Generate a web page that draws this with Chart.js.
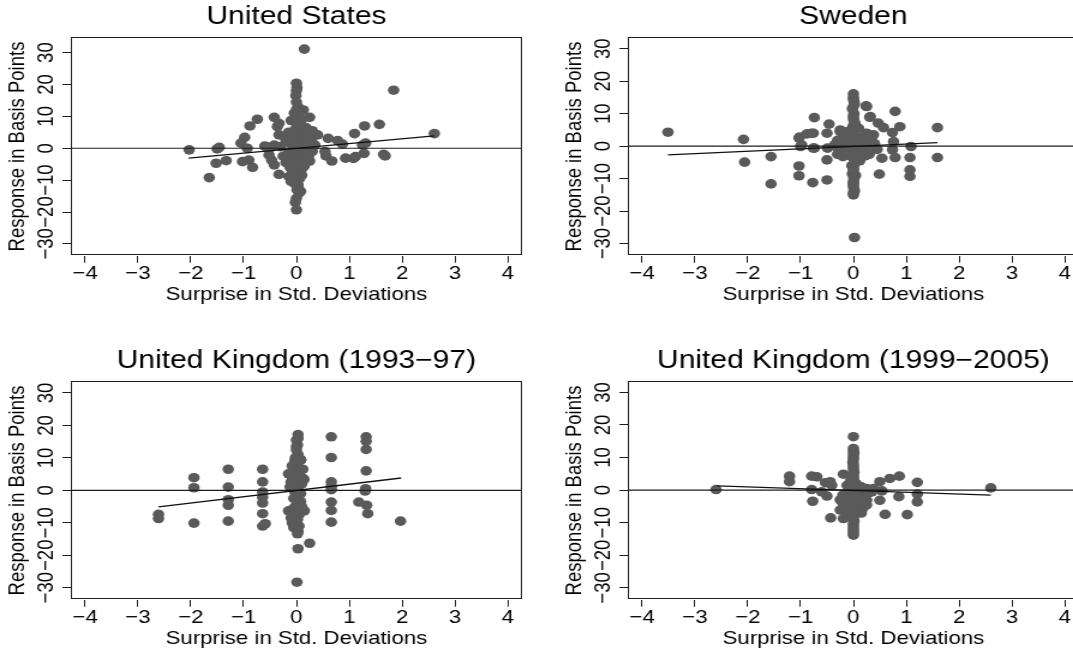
<!DOCTYPE html>
<html>
<head>
<meta charset="utf-8">
<script src="https://cdn.jsdelivr.net/npm/chart.js@4.4.0/dist/chart.umd.min.js"></script>
<style>
html, body { margin: 0; padding: 0; background: #fff; overflow: hidden; width: 1073px; height: 654px; position: relative; }
.panel { position: absolute; transform: scaleX(1.2); transform-origin: 0 0; }
</style>
</head>
<body>
<canvas id="c1" class="panel" width="464" height="344" style="left:0px;top:0px"></canvas>
<canvas id="c2" class="panel" width="464" height="344" style="left:557px;top:0px"></canvas>
<canvas id="c3" class="panel" width="464" height="344" style="left:0px;top:344px"></canvas>
<canvas id="c4" class="panel" width="464" height="344" style="left:557px;top:344px"></canvas>
<script>
// ---------- data ----------
const xTickValues = [-4, -3, -2, -1, 0, 1, 2, 3, 4];
const xTickLabels = ['−4', '−3', '−2', '−1', '0', '1', '2', '3', '4'];
const yTickValues = [-30, -20, -10, 0, 10, 20, 30];
const yTickLabels = ['−30', '−20', '−10', '0', '10', '20', '30'];
const panelTitles = ['United States', 'Sweden', 'United Kingdom (1993−97)', 'United Kingdom (1999−2005)'];
const xAxisTitle = 'Surprise in Std. Deviations';
const yAxisTitle = 'Response in Basis Points';
const xRange = [-4.27, 4.27];
const yRanges = [[-33.7, 34.8], [-33.7, 33.5], [-33.7, 33.6], [-33.6, 33.4]];

// [surprise, response] pairs
const usPoints = [
  [0.15,31.1],[0.00,20.4],[0.01,19.0],[0.00,18.0],[-0.01,16.5],[1.84,18.2],[2.61,4.6],[1.29,7.0],[1.57,7.5],
  [1.10,4.6],[1.31,1.6],[1.25,1.0],[1.65,-1.9],[1.68,-2.4],[1.28,-1.6],[1.12,-2.6],[1.08,-3.2],[0.93,-3.1],
  [0.78,2.4],[0.87,1.3],[0.60,3.1],[0.40,4.2],[0.54,-1.0],[0.56,-2.4],[0.67,-4.0],[0.25,9.7],[0.13,12.0],
  [0.03,13.0],[0.05,11.0],[0.00,-19.3],[0.00,-15.7],[0.01,-13.0],[0.03,-11.5],[-0.10,-10.4],[-0.14,-8.9],
  [0.08,-7.8],[0.06,-9.5],[-0.33,-8.2],[-0.42,-5.2],[-0.47,-3.7],[-0.52,-2.1],[-0.42,1.0],[-0.60,0.7],
  [-0.48,0.3],[-0.33,4.2],[-0.36,6.8],[-0.42,9.7],[-0.33,7.8],[-0.10,8.7],[-0.04,11.0],[-0.74,9.1],
  [-0.88,7.0],[-0.98,3.4],[-1.05,1.6],[-0.93,0.0],[-1.02,-4.2],[-0.90,-3.7],[-0.83,-6.0],[-1.33,-3.9],
  [-1.46,0.3],[-1.50,-0.2],[-1.52,-4.7],[-2.03,-0.5],[-1.65,-9.2],[-0.20,2.6],[-0.55,0.4],
  [0.02,10.0],[0.00,8.0],[0.05,7.0],[-0.02,6.0],[0.10,5.0],[0.04,4.0],[0.15,3.5],[-0.05,3.0],[0.08,2.0],
  [0.20,1.5],[-0.08,1.0],[0.12,0.5],[0.00,0.0],[0.05,-1.0],[0.18,-1.5],[-0.05,-2.0],[0.10,-2.5],[0.20,-3.0],
  [-0.10,-3.5],[0.02,-4.0],[0.12,-4.5],[-0.05,-5.0],[0.00,-6.0],[0.10,-6.5],[-0.08,-7.0],[0.03,-12.0],
  [0.22,4.5],[0.30,5.5],[0.25,-4.0],[-0.20,-4.5],[-0.15,-1.5],[-0.25,-2.5],[-0.30,0.5],[0.24,-2.0],
  [0.00,12.0],[0.02,9.0],[-0.03,5.0],[0.00,-8.0],[0.02,-9.0],[0.00,-10.0],[-0.04,-11.0],[0.05,-14.0],
  [0.10,-8.5],[-0.12,-6.0],[0.15,-5.5],[0.18,6.5],[0.10,9.0],[-0.15,5.0],[-0.18,2.0],[0.30,-1.0],
  [0.35,1.0],[0.28,2.5],[0.08,-13.5],[0.00,14.5],[-0.02,-17.0]
];
const swedenPoints = [
  [-3.51,4.3],[-2.08,2.1],[-2.06,-4.9],[-1.56,-3.2],[-1.56,-11.6],[-1.03,-6.1],[-1.03,-9.1],[-0.77,-11.2],
  [-0.50,-10.4],[-1.03,2.5],[-0.98,0.4],[-0.79,4.0],[-0.74,8.8],[-0.74,-0.6],[-0.50,-4.2],[-0.50,4.0],
  [-0.46,6.8],[-0.49,-0.6],[-0.25,4.5],[-0.22,-1.6],[0.00,16.1],[0.00,-15.0],[0.00,-11.4],[0.02,-28.1],
  [0.24,12.4],[0.32,9.1],[0.49,-8.6],[0.54,-3.7],[0.47,7.1],[0.57,5.7],[0.38,3.5],[0.79,10.7],[0.88,6.0],
  [0.74,4.2],[0.76,1.4],[0.74,-1.1],[0.79,-3.5],[1.09,-0.1],[1.07,-3.5],[1.07,-7.3],[1.07,-9.3],[1.59,5.7],
  [1.59,-3.5],[-1.02,2.8],[-0.88,3.8],[-0.76,4.0],[-0.76,-0.6],[-1.00,-0.1],[-0.25,5.0],[-0.25,-2.2],
  [0.25,4.0],[0.31,8.9],[0.25,12.2],
  [-0.30,-2.5],[-0.20,2.5],[-0.15,0.5],[-0.10,-1.0],[0.10,1.0],[0.15,-2.0],[0.20,0.5],[0.25,-1.5],[0.30,1.5],
  [0.35,-0.5],[0.45,-1.0],[-0.25,1.0],[0.05,3.0],[-0.05,-3.0],[0.10,5.5],[-0.10,4.5],[0.12,-4.5],
  [0.00,14.5],[0.02,13.0],[-0.02,11.5],[0.01,10.0],[0.00,8.5],[0.03,7.0],[-0.01,6.0],[0.02,-5.5],[0.00,-7.0],
  [-0.02,-8.5],[0.01,-10.0],[0.00,-12.5],[0.02,-13.8],[-0.03,-6.0],[0.04,-9.0],[0.00,-10.9],
  [0.00,15.0],[0.01,13.8],[0.00,12.2],[0.00,9.3],[0.01,7.8],[0.00,4.0],[0.00,2.0],[0.00,-1.5],[0.01,-4.0],
  [0.00,-6.8],[0.00,-7.8],[0.01,-9.5],[0.00,-11.8],[0.01,-13.2],[0.00,-14.3],
  [-0.35,0.5],[-0.30,1.8],[-0.28,-1.0],[-0.20,-3.2],[-0.12,3.0],[0.18,2.8],[0.22,-3.0],[0.30,-2.5],
  [0.40,0.8],[0.12,-0.5],[-0.15,-2.0],[0.08,2.2],[0.28,3.0],[-0.08,0.2]
];
const uk9397Points = [
  [-2.61,-7.4],[-2.61,-8.7],[-1.94,3.9],[-1.94,0.8],[-1.94,-10.1],[-1.29,6.5],[-1.29,1.0],[-1.29,-2.9],
  [-1.29,-4.6],[-1.29,-9.5],[-0.64,6.5],[-0.64,2.6],[-0.64,-0.5],[-0.64,-2.1],[-0.64,-3.9],[-0.64,-7.2],
  [-0.64,-11.0],[-0.59,-10.3],[0.03,17.2],[0.02,-13.4],[0.03,-18.0],[0.25,-16.3],[0.01,-28.3],[-0.15,-6.3],
  [0.15,-6.3],[-0.11,4.8],[0.13,3.6],[0.66,16.5],[0.66,10.1],[0.66,2.6],[0.66,1.2],[0.66,0.2],[0.66,-3.6],
  [0.66,-6.2],[0.66,-9.8],[1.32,16.5],[1.32,15.1],[1.32,12.6],[1.32,6.0],[1.31,0.5],[1.30,-0.2],[1.18,-3.6],
  [1.33,-4.6],[1.35,-7.2],[1.97,-9.5],
  [0.00,15.5],[0.02,14.0],[0.00,12.5],[0.03,11.0],[-0.02,10.0],[0.08,9.5],[0.00,8.5],[0.02,7.5],[-0.05,6.5],
  [0.05,5.5],[0.00,4.5],[-0.10,2.5],[0.10,2.0],[0.00,1.5],[0.03,0.5],[-0.03,-0.5],[0.05,-1.5],[-0.05,-2.5],
  [0.08,-3.5],[0.00,-4.5],[-0.05,-5.5],[0.05,-7.5],[0.00,-8.5],[-0.08,-10.0],[0.05,-11.0],[0.00,-12.0],
  [-0.05,-11.5],[-0.15,5.1],[0.14,3.3],[0.08,9.3],
  [0.03,16.0],[0.00,13.5],[-0.03,9.0],[0.05,6.0],[-0.02,3.5],[0.05,-3.0],[-0.02,-6.5],[0.02,-9.0],
  [0.00,-9.5],[0.03,-12.7],[-0.08,3.0],[0.08,-1.0],[-0.10,-8.5],[0.10,-5.0],[-0.12,1.0],[0.12,6.5],[-0.08,7.5]
];
const uk9905Points = [
  [-2.60,0.2],[2.60,0.7],[0.00,16.4],[-1.21,4.3],[-1.21,2.6],[-0.79,4.3],[-0.69,4.1],[-0.79,0.2],[-0.77,-3.4],
  [-0.53,2.3],[-0.44,2.6],[-0.41,1.5],[-0.50,-1.8],[-0.60,-0.5],[-0.19,4.9],[-0.25,-6.1],[-0.43,-8.5],
  [-0.19,-8.7],[-0.19,-3.1],[0.25,0.5],[0.25,-3.1],[0.06,-6.1],[0.50,2.6],[0.69,3.6],[0.87,4.3],[0.50,-3.1],
  [0.60,-7.4],[0.86,-2.0],[1.02,-7.5],[1.21,2.4],[1.21,-1.2],[1.21,-3.6],[0.54,-0.2],[0.38,0.5],
  [0.00,12.8],[0.01,11.5],[0.00,10.0],[-0.01,8.5],[0.00,7.0],[0.01,5.5],[0.00,4.0],[0.02,2.5],[0.00,1.0],
  [-0.02,-0.5],[0.00,-2.0],[0.02,-3.5],[0.00,-5.0],[-0.01,-6.5],[0.00,-8.0],[0.01,-9.5],[0.00,-11.0],
  [0.00,-12.5],[0.00,-13.8],
  [-0.15,-1.0],[0.15,1.0],[-0.20,-4.0],[0.12,-3.5],[0.18,-5.5],[-0.12,1.5],[0.10,-1.5],[-0.10,-2.5],
  [0.00,12.0],[0.00,10.8],[0.00,9.3],[0.00,7.8],[0.00,6.3],[0.00,4.8],[0.00,3.3],[0.00,1.8],[0.00,0.2],
  [0.00,-1.2],[0.00,-2.8],[0.00,-4.3],[0.00,-5.8],[0.00,-7.2],[0.00,-8.8],[0.00,-10.2],[0.00,-11.8],[0.00,-13.1],
  [-0.20,-1.5],[-0.25,-3.0],[0.20,-2.5],[0.25,-4.5],[-0.15,-5.8],[0.15,-7.0],[-0.10,-7.5],[0.05,2.0],
  [-0.05,3.0],[0.20,0.2],[0.28,-1.0],[0.35,-0.5]
];
// fitted line end points [x, y]
const usFit = [[-2.04, -3.1], [2.61, 3.9]];
const swedenFit = [[-3.51, -2.7], [1.59, 1.1]];
const uk9397Fit = [[-2.61, -5.1], [1.98, 3.8]];
const uk9905Fit = [[-2.58, 1.3], [2.60, -1.5]];

// ---------- drawing ----------
const FONT = "'Liberation Sans', Arial, Helvetica, sans-serif";
const DOT = '#5a5a5a';
const INK = '#1c1c1c';

const framePlugin = {
  id: 'frame',
  afterDatasetsDraw(chart) {
    const a = chart.chartArea, ctx = chart.ctx;
    ctx.save();
    ctx.strokeStyle = INK;
    ctx.lineWidth = 1;
    ctx.strokeRect(Math.round(a.left) + 0.5, Math.round(a.top) + 0.5,
                   Math.round(a.right - a.left) - 1, Math.round(a.bottom - a.top) - 1);
    ctx.restore();
  },
  afterDraw(chart) {
    const ctx = chart.ctx, ys = chart.scales.y;
    ctx.save();
    ctx.fillStyle = '#000';
    ctx.font = '18.5px ' + FONT;
    ctx.textAlign = 'center';
    ctx.textBaseline = 'middle';
    yTickValues.forEach((v, i) => {
      const py = ys.getPixelForValue(v);
      ctx.save();
      ctx.translate(39, py);
      ctx.rotate(-Math.PI / 2);
      ctx.fillText(yTickLabels[i], 0, 0);
      ctx.restore();
    });
    ctx.restore();
  }
};

function makeChart(id, title, points, fit, yRange) {
  return new Chart(document.getElementById(id), {
    type: 'scatter',
    data: {
      datasets: [
        { data: fit.map(p => ({x: p[0], y: p[1]})), showLine: true, borderColor: '#111',
          borderWidth: 1.3, pointRadius: 0, order: 1 },
        { data: [{x: xRange[0], y: 0}, {x: xRange[1], y: 0}], showLine: true, borderColor: INK,
          borderWidth: 1.2, pointRadius: 0, order: 2 },
        { data: points.map(p => ({x: p[0], y: p[1]})), pointRadius: 4.8, pointHoverRadius: 4.8,
          backgroundColor: DOT, borderWidth: 0, order: 3 }
      ]
    },
    options: {
      responsive: false,
      animation: false,
      devicePixelRatio: 1,
      layout: { padding: { left: 0, right: 29, top: 0, bottom: 0 } },
      plugins: {
        legend: { display: false },
        tooltip: { enabled: false },
        title: {
          display: true, text: title, fullSize: false, color: '#000',
          font: { family: FONT, size: 25, weight: 'normal' },
          padding: { top: 1.7, bottom: 5.6 }
        }
      },
      scales: {
        x: {
          type: 'linear', min: xRange[0], max: xRange[1],
          afterBuildTicks: s => { s.ticks = xTickValues.map(v => ({value: v})); },
          afterFit: s => { s.height = 88.3; },
          ticks: { callback: v => xTickLabels[xTickValues.indexOf(v)], color: '#000', padding: 0,
                   autoSkip: false, maxRotation: 0, minRotation: 0, font: { family: FONT, size: 18.5 } },
          grid: { drawOnChartArea: false, drawTicks: true, tickLength: 7, color: INK, lineWidth: 1 },
          border: { display: false },
          title: { display: true, text: xAxisTitle, color: '#000', font: { family: FONT, size: 18.5 },
                   padding: { top: 0, bottom: 38.4 } }
        },
        y: {
          type: 'linear', min: yRange[0], max: yRange[1],
          afterBuildTicks: s => { s.ticks = yTickValues.map(v => ({value: v})); },
          afterFit: s => { s.width = 59; },
          ticks: { display: false },
          grid: { drawOnChartArea: false, drawTicks: true, tickLength: 7, color: INK, lineWidth: 1 },
          border: { display: false },
          title: { display: true, text: yAxisTitle, color: '#000', font: { family: FONT, size: 18.5 },
                   padding: { top: 3.9, bottom: 0 } }
        }
      }
    },
    plugins: [framePlugin]
  });
}

makeChart('c1', panelTitles[0], usPoints, usFit, yRanges[0]);
makeChart('c2', panelTitles[1], swedenPoints, swedenFit, yRanges[1]);
makeChart('c3', panelTitles[2], uk9397Points, uk9397Fit, yRanges[2]);
makeChart('c4', panelTitles[3], uk9905Points, uk9905Fit, yRanges[3]);
</script>
</body>
</html>
